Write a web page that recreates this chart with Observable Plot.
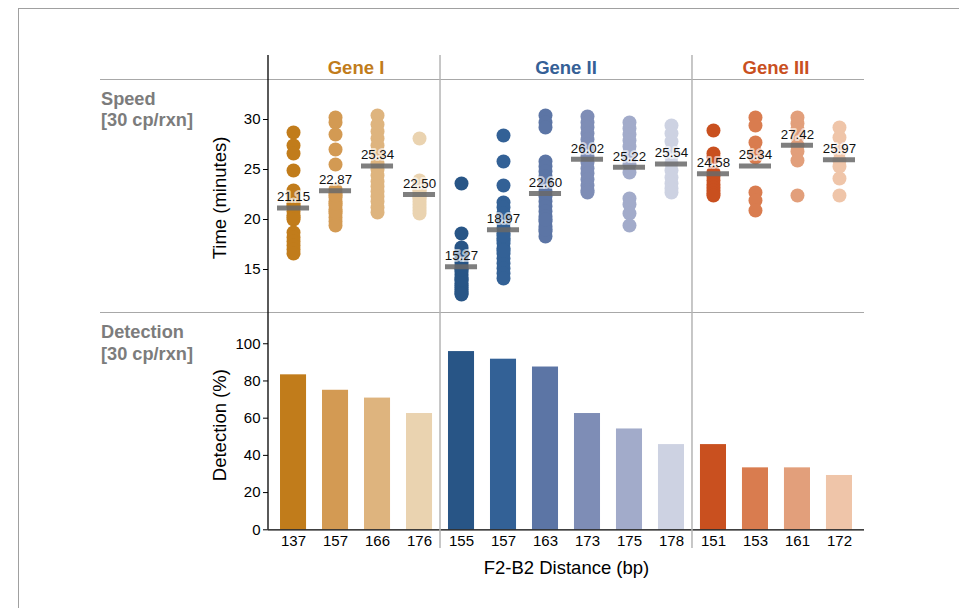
<!DOCTYPE html>
<html><head><meta charset="utf-8">
<script src="https://cdn.jsdelivr.net/npm/d3@7"></script>
<script src="https://cdn.jsdelivr.net/npm/@observablehq/plot@0.6"></script>
<style>
body{margin:0;background:#fff;font-family:"Liberation Sans",Arial,Helvetica,sans-serif;}
#wrap{position:relative;width:959px;height:608px;overflow:hidden;background:#fff;}
#frame{position:absolute;left:18px;top:8px;width:960px;height:620px;border-left:1px solid #a0a0a0;border-top:1px solid #a0a0a0;}
.p{position:absolute;left:0;}
</style></head><body>
<div id="wrap"><div id="frame"></div><div id="top" class="p" style="top:0"></div><div id="bot" class="p" style="top:312px"></div></div>
<script>
// ---- data ----
const genes = ["Gene I", "Gene II", "Gene III"];
const geneColors = ["#c17c1b", "#356096", "#c9501f"];
const categories = ["137","157","166","176","155","157","163","173","175","178","151","153","161","172"];
const categoryGene = [0,0,0,0,1,1,1,1,1,1,2,2,2,2];
const barColors = ["#c17c1b","#d39a53","#deb47e","#ead3b0",
                   "#285586","#336196","#5c75a5","#7e8db6","#a2abca","#cdd2e2",
                   "#c9501f","#d97c4f","#e29f7b","#efc5a9"];
const detection = [83.3,75.0,70.8,62.5,95.8,91.7,87.5,62.5,54.2,45.8,45.8,33.3,33.3,29.2];
const meanTime = [21.15,22.87,25.34,22.50,15.27,18.97,22.60,26.02,25.22,25.54,24.58,25.34,27.42,25.97];
const times = [
  [28.7,27.4,26.6,24.9,22.9,22.4,22.0,21.6,21.2,20.8,20.4,20.0,18.7,18.2,17.8,17.4,17.0,16.6,20.2,21.4],
  [30.2,29.7,28.5,27.0,25.5,23.0,22.6,22.2,21.8,21.4,21.0,20.6,20.2,19.8,19.4,20.8,21.6,22.4],
  [30.4,29.5,28.8,28.1,27.4,26.8,26.2,25.6,25.0,24.4,23.8,23.3,22.8,22.3,21.8,21.2,20.7],
  [28.1,23.9,23.6,23.3,23.0,22.7,22.4,22.1,21.8,21.5,21.2,20.9,20.6,22.2,22.9],
  [23.6,18.6,17.2,16.9,16.6,16.3,16.0,15.7,15.4,15.1,14.8,14.5,14.2,13.9,13.6,13.4,13.2,13.0,12.8,12.6,12.5,14.0,15.0],
  [28.4,25.8,23.4,21.7,21.2,20.6,20.1,19.6,19.1,18.6,18.1,17.6,17.1,16.6,16.1,15.6,15.1,14.6,14.1,17.9,18.4,16.9],
  [30.4,29.7,29.2,25.8,25.3,24.8,24.3,23.8,23.3,22.8,22.3,21.8,21.3,20.8,20.3,19.8,19.3,18.8,18.3,19.0,20.0],
  [30.3,29.7,29.2,28.6,28.0,27.5,26.9,26.3,25.7,25.1,24.6,24.0,23.4,22.9,22.7],
  [29.7,29.1,28.5,27.9,27.3,26.7,26.1,25.5,24.7,22.1,21.5,20.6,19.4],
  [29.4,28.6,27.8,27.0,26.3,25.6,24.9,24.2,23.6,23.1,22.7],
  [28.9,26.6,26.2,24.7,24.3,23.9,23.5,23.2,22.9,22.6,22.4],
  [30.2,29.4,27.7,26.7,26.2,22.7,21.9,20.9],
  [30.2,29.6,29.0,28.2,27.4,26.8,25.9,22.4],
  [29.2,28.2,26.8,25.9,25.3,24.1,22.4]
];
const speedTicks = [15,20,25,30];
const detectionTicks = [0,20,40,60,80,100];
const panelLabels = [["Speed","[30 cp/rxn]"],["Detection","[30 cp/rxn]"]];
const yTitles = ["Time (minutes)","Detection (%)"];
const xTitle = "F2-B2 Distance (bp)";

// ---- build ----
const FONT = "Liberation Sans, Arial, Helvetica, sans-serif";
const keys = d3.range(categories.length);
const dots = times.flatMap((arr, i) => arr.map(v => ({k: i, v})));
const means = keys.map(i => ({k: i, v: meanTime[i]}));
const xOpts = {type: "band", domain: keys, paddingInner: 0.38, paddingOuter: 0.286, round: false};
const W = 959, ML = 268, MR = 95;

const topPlot = Plot.plot({
  width: W, height: 312, marginLeft: ML, marginRight: MR, marginTop: 55, marginBottom: 0,
  x: {...xOpts, axis: null},
  y: {domain: [10.7, 36.4], axis: null},
  color: {type: "identity"},
  style: {fontFamily: FONT, background: "transparent", color: "#000"},
  marks: [
    Plot.axisY({ticks: speedTicks, tickSize: 5, tickPadding: 3, fontSize: 15, label: null}),
    Plot.dot(dots, {x: "k", y: "v", r: 7, fill: d => barColors[d.k]}),
    Plot.tickY(means, {x: "k", y: "v", stroke: "#686868", strokeWidth: 5, strokeOpacity: 0.85, insetLeft: -3, insetRight: -3}),
    Plot.text(means, {x: "k", y: "v", text: d => d.v.toFixed(2), dy: -11, fontSize: 13.3, fill: "#111",
      stroke: "white", strokeWidth: 4, strokeOpacity: 0.6}),
    Plot.text([yTitles[0]], {frameAnchor: "left", textAnchor: "middle", lineAnchor: "middle", rotate: -90, dx: -48, dy: 14, fontSize: 18.5})
  ]
});

const botPlot = Plot.plot({
  width: W, height: 296, marginLeft: ML, marginRight: MR, marginTop: 0, marginBottom: 78.7,
  x: {...xOpts},
  y: {domain: [0, 116.8]},
  color: {type: "identity"},
  style: {fontFamily: FONT, background: "transparent", color: "#000"},
  marks: [
    Plot.barY(keys, {x: d => d, y: d => detection[d], fill: d => barColors[d]}),
    Plot.ruleY([0], {stroke: "#000", strokeWidth: 1.3}),
    Plot.axisY({ticks: detectionTicks, tickSize: 5, tickPadding: 3, fontSize: 15, label: null}),
    Plot.axisX({tickSize: 0, tickPadding: 6, fontSize: 15, tickFormat: i => categories[i], label: null}),
    Plot.text([yTitles[1]], {frameAnchor: "left", textAnchor: "middle", lineAnchor: "middle", rotate: -90, dx: -48, dy: 4, fontSize: 18.5}),
    Plot.text([xTitle], {frameAnchor: "bottom", lineAnchor: "middle", dy: 38, fontSize: 18.5})
  ]
});

document.getElementById("top").appendChild(topPlot);
document.getElementById("bot").appendChild(botPlot);

// ---- decorations from the x scale ----
const xs = botPlot.scale("x");
const bw = xs.bandwidth;
const step = xs.step || (xs.apply(1) - xs.apply(0));
const sepKeys = keys.filter(i => i < keys.length - 1 && categoryGene[i] !== categoryGene[i + 1]);
const sepX = sepKeys.map(i => xs.apply(i) + bw + (step - bw) / 2);
const right = W - MR;

function line(sel, x1, y1, x2, y2, stroke, sw) {
  sel.append("line").attr("x1", x1).attr("y1", y1).attr("x2", x2).attr("y2", y2)
    .attr("stroke", stroke).attr("stroke-width", sw);
}
function label(sel, lines, y0) {
  lines.forEach((t, j) => sel.append("text").attr("x", 101).attr("y", y0 + j * 21.5)
    .attr("text-anchor", "start")
    .attr("font-family", FONT).attr("font-size", 18.2).attr("font-weight", "bold")
    .attr("fill", "#7c7c7c").text(t));
}

const ts = d3.select(topPlot);
const tg = ts.append("g");
line(tg, 100, 79.5, right, 79.5, "#a8a8a8", 1);
sepX.forEach(x => line(tg, x, 55, x, 312, "#b5b5b5", 1.5));
line(tg, ML, 55, ML, 312, "#000", 1.3);
genes.forEach((g, gi) => {
  const ks = keys.filter(i => categoryGene[i] === gi);
  const cx = (xs.apply(ks[0]) + xs.apply(ks[ks.length - 1]) + bw) / 2;
  tg.append("text").attr("x", cx).attr("y", 74).attr("text-anchor", "middle")
    .attr("font-family", FONT).attr("font-size", 18.5).attr("font-weight", "bold")
    .attr("fill", geneColors[gi]).text(g);
});
label(tg, panelLabels[0], 104.5);

const bs = d3.select(botPlot);
const bg = bs.append("g");
line(bg, 100, 0.5, right, 0.5, "#a8a8a8", 1);
sepX.forEach(x => line(bg, x, 0, x, 236, "#b5b5b5", 1.5));
line(bg, ML, 0, ML, 217.3, "#000", 1.3);
label(bg, panelLabels[1], 26);
</script>
</body></html>
